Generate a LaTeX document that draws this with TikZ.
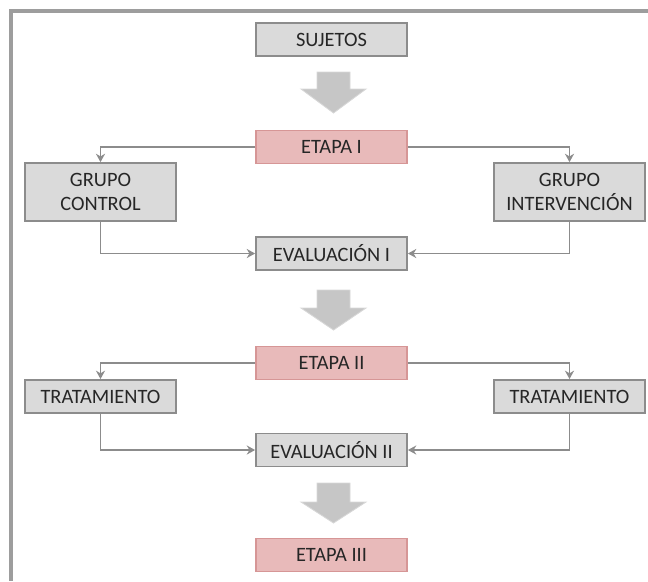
\documentclass[tikz,border=0pt]{standalone}
\usepackage{fontspec}
\setmainfont{Carlito}
\usetikzlibrary{arrows.meta}

\definecolor{boxgray}{RGB}{218,218,218}
\definecolor{edgegray}{RGB}{140,140,140}
\definecolor{etapafill}{RGB}{232,186,186}
\definecolor{etapaedge}{RGB}{214,150,150}
\definecolor{bigarrow}{RGB}{198,198,198}

\newcommand*{\boxw}{3.775cm}
\newcommand*{\boxh}{0.83cm}

\begin{document}
\begin{tikzpicture}
[
	x=0.025cm,y=-0.025cm,
	font=\fontsize{14.5}{17}\selectfont,
	graybox/.style={draw=edgegray,fill=boxgray,line width=1.2pt,inner sep=2pt,minimum width=\boxw,minimum height=\boxh,align=center,text=black!85},
	etapabox/.style={graybox,draw=etapaedge,fill=etapafill},
	conn/.style={draw=edgegray,line width=1.4pt,-{Stealth[length=6pt,width=6.5pt]}},
	frameline/.style={draw=edgegray!85,line width=2.3pt}
]

	\useasboundingbox (0,0) rectangle (648,581);

	% frame
	\draw[frameline] (648,11) -- (11,11) -- (11,581);

	% boxes
	\node[graybox] (sujetos) at (331.5,39.5) {SUJETOS};
	\node[etapabox] (etapa1) at (331.5,147) {ETAPA I};
	\node[graybox,minimum height=1.45cm] (control) at (100.5,192) {GRUPO\\CONTROL};
	\node[graybox,minimum height=1.45cm] (interv) at (569.5,192) {GRUPO\\INTERVENCIÓN};
	\node[graybox] (eval1) at (331.5,253.5) {EVALUACIÓN I};
	\node[etapabox] (etapa2) at (331.5,363) {ETAPA II};
	\node[graybox] (trat1) at (100.5,396.5) {TRATAMIENTO};
	\node[graybox] (trat2) at (569.5,396.5) {TRATAMIENTO};
	\node[graybox] (eval2) at (331.5,450) {EVALUACIÓN II};
	\node[etapabox] (etapa3) at (331.5,555) {ETAPA III};

	% block arrows
	\foreach \ytop/\yhead/\ytip in {72/89/113, 290/308/330, 483/502/523}
		\filldraw[fill=bigarrow,draw=bigarrow!70!white,line width=0.6pt]
			(317,\ytop) -- (350,\ytop) -- (350,\yhead) -- (366,\yhead)
			-- (333.5,\ytip) -- (301,\yhead) -- (317,\yhead) -- cycle;

	% connectors
	\draw[conn] (etapa1.west) -| (control.north);
	\draw[conn] (etapa1.east) -| (interv.north);
	\draw[conn] (control.south) |- (eval1.west);
	\draw[conn] (interv.south) |- (eval1.east);
	\draw[conn] (etapa2.west) -| (trat1.north);
	\draw[conn] (etapa2.east) -| (trat2.north);
	\draw[conn] (trat1.south) |- (eval2.west);
	\draw[conn] (trat2.south) |- (eval2.east);

\end{tikzpicture}
\end{document}
